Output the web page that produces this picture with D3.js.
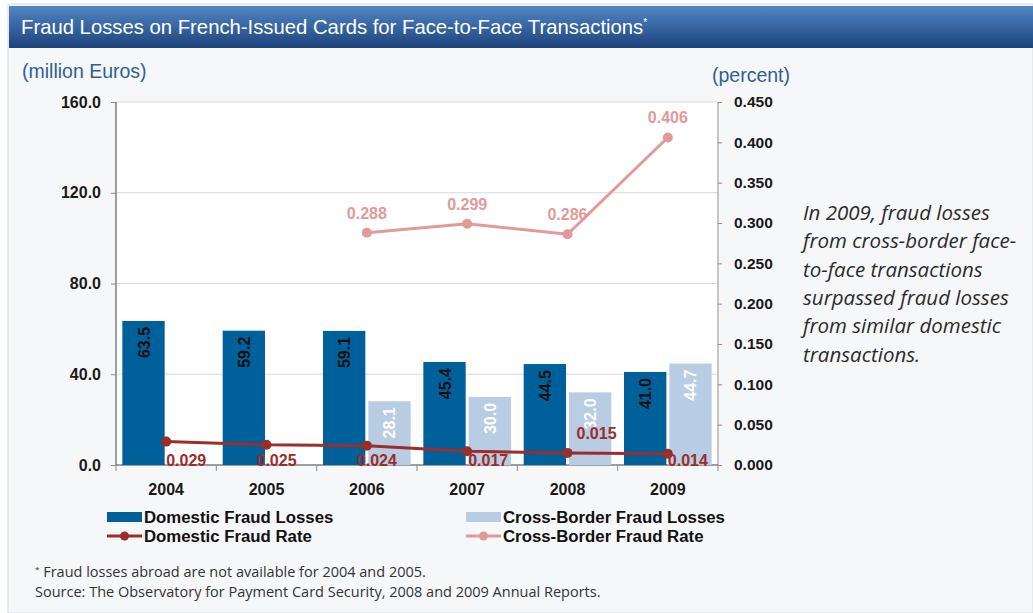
<!DOCTYPE html>
<html>
<head>
<meta charset="utf-8">
<script src="https://cdn.jsdelivr.net/npm/d3@7"></script>
<style>
  body { margin: 0; background: #fff; }
  svg { display: block; }
</style>
</head>
<body>
<div id="chart"></div>
<script>
// data
var years = ["2004", "2005", "2006", "2007", "2008", "2009"];
var domesticLosses = [63.5, 59.2, 59.1, 45.4, 44.5, 41.0];
var crossLosses = [null, null, 28.1, 30.0, 32.0, 44.7];
var domesticRate = [0.029, 0.025, 0.024, 0.017, 0.015, 0.014];
var crossRate = [null, null, 0.288, 0.299, 0.286, 0.406];
var leftTicks = [0, 40, 80, 120, 160];
var rightTicks = [0, 0.05, 0.1, 0.15, 0.2, 0.25, 0.3, 0.35, 0.4, 0.45];
var noteLines = [
    "In 2009, fraud losses",
    "from cross-border face-",
    "to-face transactions",
    "surpassed fraud losses",
    "from similar domestic",
    "transactions."
];

var colors = {
    domBar: "#00609a",
    crossBar: "#b8cce4",
    domLine: "#9b2d2a",
    crossLine: "#e29a98",
    axisTxt: "#1a1a1a",
    blueTxt: "#2f5f98"
};

var W = 1033, H = 613;
var svg = d3.select("#chart").append("svg")
    .attr("width", W)
    .attr("height", H);

// frame + title bar
var defs = svg.append("defs");
var grad = defs.append("linearGradient")
    .attr("id", "titleGrad")
    .attr("x1", 0).attr("y1", 0).attr("x2", 0).attr("y2", 1);
grad.append("stop").attr("offset", "0%").attr("stop-color", "#5185c4");
grad.append("stop").attr("offset", "100%").attr("stop-color", "#1c447c");

svg.append("rect")
    .attr("x", 8).attr("y", 4)
    .attr("width", W - 8).attr("height", H - 4)
    .attr("fill", "#f6f7f9")
    .attr("stroke", "#d6d9de");

svg.append("rect")
    .attr("x", 9).attr("y", 6)
    .attr("width", W - 9).attr("height", 42)
    .attr("fill", "url(#titleGrad)");

var title = svg.append("text")
    .attr("x", 21).attr("y", 34)
    .attr("fill", "#fff")
    .attr("font-family", "'Liberation Sans', Arial, sans-serif")
    .attr("font-size", "20.3px");
title.append("tspan").text("Fraud Losses on French-Issued Cards for Face-to-Face Transactions");
title.append("tspan").attr("dy", -8).attr("font-size", "10px").text("*");

// scales
var M = { left: 116, right: 718, top: 102, bottom: 465 };
var x = d3.scaleBand().domain(years).range([M.left, M.right]).padding(0);
var sub = d3.scaleBand().domain(["dom", "cross"])
    .range([0, x.bandwidth()])
    .paddingInner(0.066)
    .paddingOuter(0.14);
var yL = d3.scaleLinear().domain([0, 160]).range([M.bottom, M.top]);
var yR = d3.scaleLinear().domain([0, 0.45]).range([M.bottom, M.top]);
function mid(i) { return x(years[i]) + x.bandwidth() / 2; }

// plot area
svg.append("rect")
    .attr("x", M.left).attr("y", M.top)
    .attr("width", M.right - M.left).attr("height", M.bottom - M.top)
    .attr("fill", "#fff");

svg.append("g")
    .selectAll("line")
    .data(leftTicks.filter(function(d) { return d > 0; }))
    .enter().append("line")
    .attr("x1", M.left).attr("x2", M.right)
    .attr("y1", function(d) { return yL(d); })
    .attr("y2", function(d) { return yL(d); })
    .attr("stroke", "#d9d9d9")
    .attr("stroke-width", 1.2);

// axes
var fontAx = "'Liberation Sans', Arial, sans-serif";
var axL = svg.append("g")
    .attr("transform", "translate(" + M.left + ",0)")
    .call(d3.axisLeft(yL).tickValues(leftTicks).tickFormat(d3.format(".1f")).tickSize(5).tickPadding(10));
var axR = svg.append("g")
    .attr("transform", "translate(" + M.right + ",0)")
    .call(d3.axisRight(yR).tickValues(rightTicks).tickFormat(d3.format(".3f")).tickSize(4).tickPadding(12));
var axB = svg.append("g")
    .attr("transform", "translate(0," + M.bottom + ")")
    .call(d3.axisBottom(x).tickSize(0).tickPadding(19));

[axL, axR, axB].forEach(function(a) {
    a.selectAll("text")
        .attr("font-family", fontAx)
        .attr("font-weight", "bold")
        .attr("fill", colors.axisTxt);
    a.selectAll("line").attr("stroke", "#8c8c8c");
});
axL.selectAll("text").attr("font-size", "16px");
axR.selectAll("text").attr("font-size", "15.5px");
axB.selectAll("text").attr("font-size", "16px");
axL.select(".domain").attr("stroke", "#7f7f7f").attr("stroke-width", 1.5).attr("d", "M0," + M.top + "V" + M.bottom);
axR.select(".domain").attr("stroke", "#b5b5b5").attr("stroke-width", 1.5).attr("d", "M0," + M.top + "V" + M.bottom);
axB.select(".domain").attr("stroke", "#7f7f7f").attr("stroke-width", 1.5).attr("d", "M" + M.left + ",0H" + M.right);

// category separators on x axis
svg.append("g")
    .selectAll("line")
    .data(d3.range(years.length + 1))
    .enter().append("line")
    .attr("x1", function(i) { return M.left + i * x.step(); })
    .attr("x2", function(i) { return M.left + i * x.step(); })
    .attr("y1", M.bottom)
    .attr("y2", M.bottom + 6)
    .attr("stroke", "#8c8c8c");

// bars
var domIdx = d3.range(years.length);
var crossIdx = domIdx.filter(function(i) { return crossLosses[i] != null; });
var gBars = svg.append("g");
gBars.selectAll(".dom")
    .data(domIdx)
    .enter().append("rect")
    .attr("class", "dom")
    .attr("x", function(i) { return x(years[i]) + sub("dom"); })
    .attr("y", function(i) { return yL(domesticLosses[i]); })
    .attr("width", sub.bandwidth())
    .attr("height", function(i) { return yL(0) - yL(domesticLosses[i]); })
    .attr("fill", colors.domBar);

gBars.selectAll(".cross")
    .data(crossIdx)
    .enter().append("rect")
    .attr("class", "cross")
    .attr("x", function(i) { return x(years[i]) + sub("cross"); })
    .attr("y", function(i) { return yL(crossLosses[i]); })
    .attr("width", sub.bandwidth())
    .attr("height", function(i) { return yL(0) - yL(crossLosses[i]); })
    .attr("fill", colors.crossBar);

// bar labels, rotated
function barLabel(cls, idx, vals, key, fill) {
    gBars.selectAll("." + cls)
        .data(idx)
        .enter().append("text")
        .attr("class", cls)
        .attr("transform", function(i) {
            var px = x(years[i]) + sub(key) + sub.bandwidth() / 2 + 6;
            var py = yL(vals[i]) + 6;
            return "translate(" + px + "," + py + ") rotate(-90)";
        })
        .attr("text-anchor", "end")
        .attr("font-family", fontAx)
        .attr("font-weight", "bold")
        .attr("font-size", "16px")
        .attr("fill", fill)
        .text(function(i) { return d3.format(".1f")(vals[i]); });
}
barLabel("domLbl", domIdx, domesticLosses, "dom", "#111");
barLabel("crossLbl", crossIdx, crossLosses, "cross", "#fff");

// lines
var lineR = d3.line()
    .x(function(p) { return mid(p[0]); })
    .y(function(p) { return yR(p[1]); });
var domPts = domIdx.map(function(i) { return [i, domesticRate[i]]; });
var crossPts = domIdx.filter(function(i) { return crossRate[i] != null; })
    .map(function(i) { return [i, crossRate[i]]; });

svg.append("path")
    .datum(domPts)
    .attr("d", lineR)
    .attr("fill", "none")
    .attr("stroke", colors.domLine)
    .attr("stroke-width", 3);
svg.append("g").selectAll("circle")
    .data(domPts)
    .enter().append("circle")
    .attr("cx", function(p) { return mid(p[0]); })
    .attr("cy", function(p) { return yR(p[1]); })
    .attr("r", 5)
    .attr("fill", colors.domLine);

svg.append("path")
    .datum(crossPts)
    .attr("d", lineR)
    .attr("fill", "none")
    .attr("stroke", colors.crossLine)
    .attr("stroke-width", 3);
svg.append("g").selectAll("circle")
    .data(crossPts)
    .enter().append("circle")
    .attr("cx", function(p) { return mid(p[0]); })
    .attr("cy", function(p) { return yR(p[1]); })
    .attr("r", 5)
    .attr("fill", colors.crossLine);

// rate labels
// excel-style hand placed offsets for the domestic labels
var domLblShift = [[0, 1], [-10, 1], [-10, 1], [1, 1], [9, -14], [0, 1]];
svg.append("g").selectAll("text")
    .data(domPts)
    .enter().append("text")
    .attr("x", function(p) { return mid(p[0]) + domLblShift[p[0]][0]; })
    .attr("y", function(p) {
        var s = domLblShift[p[0]][1];
        return s < 0 ? yR(p[1]) + s : M.bottom + s;
    })
    .attr("font-family", fontAx)
    .attr("font-weight", "bold")
    .attr("font-size", "16px")
    .attr("fill", colors.domLine)
    .text(function(p) { return d3.format(".3f")(p[1]); });

svg.append("g").selectAll("text")
    .data(crossPts)
    .enter().append("text")
    .attr("x", function(p) { return mid(p[0]); })
    .attr("y", function(p) { return yR(p[1]) - 14; })
    .attr("text-anchor", "middle")
    .attr("font-family", fontAx)
    .attr("font-weight", "bold")
    .attr("font-size", "16px")
    .attr("fill", colors.crossLine)
    .text(function(p) { return d3.format(".3f")(p[1]); });

// axis unit labels
svg.append("text")
    .attr("x", 22).attr("y", 78)
    .attr("font-family", fontAx)
    .attr("font-size", "19.5px")
    .attr("fill", colors.blueTxt)
    .text("(million Euros)");
svg.append("text")
    .attr("x", 712).attr("y", 82)
    .attr("font-family", fontAx)
    .attr("font-size", "19.5px")
    .attr("fill", colors.blueTxt)
    .text("(percent)");

// legend
var legendItems = [
    { label: "Domestic Fraud Losses", type: "bar", color: colors.domBar },
    { label: "Cross-Border Fraud Losses", type: "bar", color: colors.crossBar },
    { label: "Domestic Fraud Rate", type: "line", color: colors.domLine },
    { label: "Cross-Border Fraud Rate", type: "line", color: colors.crossLine }
];
var lg = svg.append("g").selectAll("g")
    .data(legendItems)
    .enter().append("g")
    .attr("transform", function(d, i) {
        return "translate(" + (i % 2 ? 466 : 107) + "," + (i < 2 ? 517 : 536) + ")";
    });
lg.filter(function(d) { return d.type === "bar"; })
    .append("rect")
    .attr("x", 0).attr("y", -5)
    .attr("width", 35).attr("height", 10)
    .attr("fill", function(d) { return d.color; });
lg.filter(function(d) { return d.type === "line"; })
    .append("line")
    .attr("x1", 0).attr("x2", 35)
    .attr("stroke", function(d) { return d.color; })
    .attr("stroke-width", 3);
lg.filter(function(d) { return d.type === "line"; })
    .append("circle")
    .attr("cx", 17.5).attr("r", 4.5)
    .attr("fill", function(d) { return d.color; });
lg.append("text")
    .attr("x", 37).attr("y", 6)
    .attr("font-family", fontAx)
    .attr("font-weight", "bold")
    .attr("font-size", "16.8px")
    .attr("fill", "#111")
    .text(function(d) { return d.label; });

// side note
svg.append("g").selectAll("text")
    .data(noteLines)
    .enter().append("text")
    .attr("x", 803)
    .attr("y", function(d, i) { return 220 + i * 28.3; })
    .attr("font-family", "'Open Sans', 'Noto Sans', sans-serif")
    .attr("font-style", "italic")
    .attr("font-size", "20.5px")
    .attr("fill", "#2b2b2b")
    .text(function(d) { return d; });

// footnotes
var foot = svg.append("g")
    .attr("font-family", "'Open Sans', 'Noto Sans', sans-serif")
    .attr("font-size", "14.5px")
    .attr("fill", "#333");
foot.append("text")
    .attr("x", 35).attr("y", 577)
    .call(function(t) {
        t.append("tspan").attr("font-size", "8px").attr("dy", -5).text("*");
        t.append("tspan").attr("dy", 5).text(" Fraud losses abroad are not available for 2004 and 2005.");
    });
foot.append("text")
    .attr("x", 35).attr("y", 597)
    .text("Source: The Observatory for Payment Card Security, 2008 and 2009 Annual Reports.");
</script>
</body>
</html>
